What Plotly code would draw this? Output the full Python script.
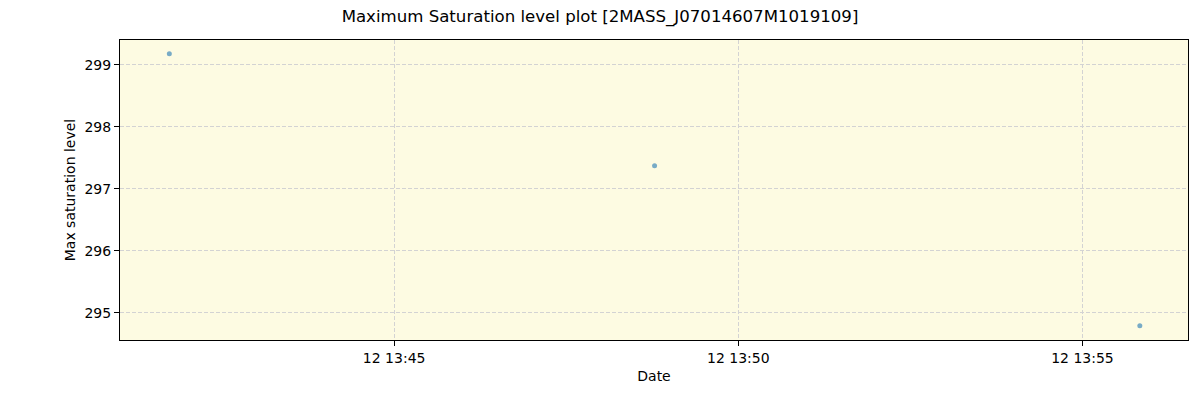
import plotly.graph_objects as go

dates = ["2021-01-12 13:41:44", "2021-01-12 13:48:47", "2021-01-12 13:55:50"]
saturation = [299.18, 297.37, 294.79]

tick_vals = ["2021-01-12 13:45:00", "2021-01-12 13:50:00", "2021-01-12 13:55:00"]
tick_text = ["12 13:45", "12 13:50", "12 13:55"]

x_range = ["2021-01-12 13:41:01", "2021-01-12 13:56:32"]
y_range = [294.56, 299.40]

font = "DejaVu Sans, Liberation Sans, sans-serif"

fig = go.Figure()
fig.add_trace(go.Scatter(
    x=dates, y=saturation, mode="markers",
    marker=dict(color="#1f77b4", size=5, opacity=0.6, line=dict(width=0)),
    showlegend=False,
))

axis_common = dict(
    showline=True, linecolor="black", linewidth=1, mirror=True,
    ticks="outside", ticklen=5, tickcolor="black", tickwidth=1,
    showgrid=True, gridcolor="#d3d3d3", griddash="4px,2px", gridwidth=1,
    zeroline=False, tickfont=dict(family=font, size=14, color="black"),
)

fig.update_layout(
    width=1200, height=400,
    margin=dict(l=120, r=12, t=40, b=60),
    paper_bgcolor="white", plot_bgcolor="#fdfbe2",
    title=dict(text="Maximum Saturation level plot [2MASS_J07014607M1019109]",
               x=0.5, xanchor="center", y=0.96, yanchor="middle",
               font=dict(family=font, size=16.6, color="black")),
    xaxis=dict(axis_common, type="date", range=x_range,
               tickvals=tick_vals, ticktext=tick_text,
               title=dict(text="Date", font=dict(family=font, size=14, color="black"), standoff=6)),
    yaxis=dict(axis_common, range=y_range, dtick=1,
               title=dict(text="Max saturation level", font=dict(family=font, size=14, color="black"), standoff=5)),
)

# drop the page's default body margin so the figure sits at the window origin
fig.write_html("out.html", config={"displayModeBar": False},
               post_script="document.body.style.margin='0';")
